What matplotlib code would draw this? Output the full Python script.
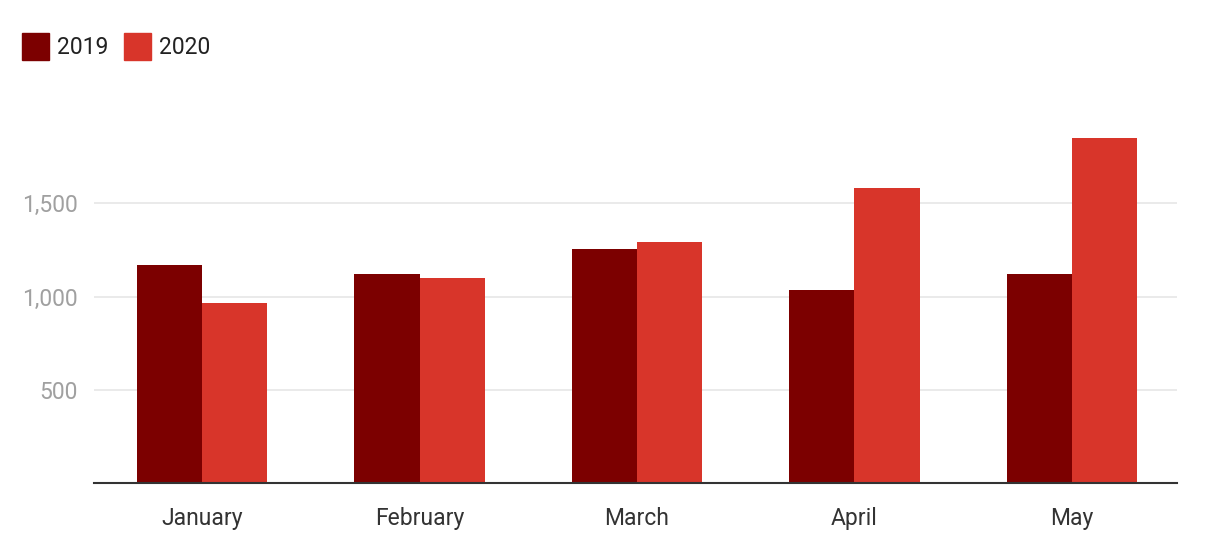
import numpy as np
import matplotlib
matplotlib.use('Agg')
import matplotlib.pyplot as plt
from matplotlib.patches import Rectangle

plt.rcParams['font.family'] = ['Roboto', 'DejaVu Sans']

# data
months = ['January', 'February', 'March', 'April', 'May']
vals_2019 = [1170, 1120, 1255, 1035, 1120]
vals_2020 = [965, 1100, 1290, 1580, 1850]
series_names = ['2019', '2020']
yticks = [500, 1000, 1500]
ytick_labels = ['500', '1,000', '1,500']

c19 = '#7c0000'
c20 = '#d8352a'
W, H = 1216, 560

fig = plt.figure(figsize=(12.16, 5.6), dpi=100)
ax = fig.add_axes([94 / W, 77 / H, 1083 / W, 373 / H])

x = np.arange(len(months))
w = 0.3
ax.bar(x - w / 2, vals_2019, width=w, color=c19, zorder=2)
ax.bar(x + w / 2, vals_2020, width=w, color=c20, zorder=2)

ax.set_xlim(-0.497, 4.483)
ax.set_ylim(0, 2000)
ax.set_yticks(yticks)
ax.set_yticklabels(ytick_labels)
ax.set_xticks(x)
ax.set_xticklabels(months)
ax.grid(axis='y', color='#e6e6e6', linewidth=1.2, zorder=0)

for s in ['top', 'right', 'left']:
    ax.spines[s].set_visible(False)
ax.spines['bottom'].set_color('#333333')
ax.spines['bottom'].set_linewidth(1.5)
ax.spines['bottom'].set_zorder(3)

ax.tick_params(axis='y', length=0, pad=12, labelsize=16.5, labelcolor='#a0a0a0')
ax.tick_params(axis='x', length=0, pad=17, labelsize=16.5, labelcolor='#333333')

# legend drawn by hand, Google-charts style
lx = [22, 124]
for i, (name, col) in enumerate(zip(series_names, [c19, c20])):
    fig.add_artist(Rectangle((lx[i] / W, 1 - 60 / H), 27 / W, 27 / H,
                             transform=fig.transFigure, color=col))
    fig.text((lx[i] + 35) / W, 1 - 47 / H, name, fontsize=16.5,
             color='#222222', va='center', ha='left')

plt.savefig('out.png', dpi=100)
